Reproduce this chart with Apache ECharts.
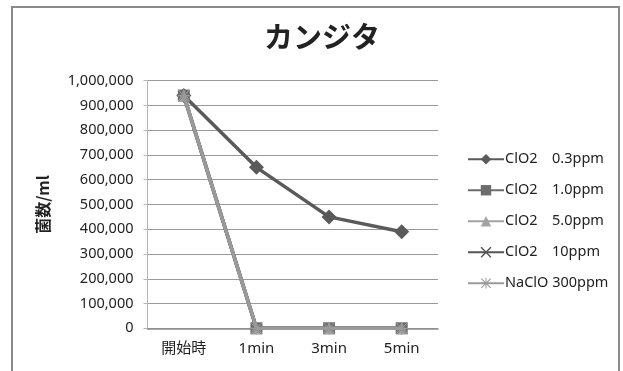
<!DOCTYPE html>
<html><head><meta charset="utf-8">
<script src="https://cdn.jsdelivr.net/npm/echarts@6/dist/echarts.min.js"></script>
<style>html,body{margin:0;padding:0;background:#fff}#c{width:623px;height:371px}</style>
</head><body><div id="c"></div>
<script>
const categories = ['開始時', '1min', '3min', '5min'];
const seriesNames = ['ClO2\u30000.3ppm', 'ClO2\u30001.0ppm', 'ClO2\u30005.0ppm', 'ClO2\u300010ppm', 'NaClO 300ppm'];
const clo2_03 = [940000, 650000, 450000, 390000];
const clo2_10 = [940000, 0, 0, 0];
const clo2_50 = [940000, 0, 0, 0];
const clo2_100 = [940000, 0, 0, 0];
const naclo_300 = [940000, 0, 0, 0];
const yTicks = [0, 100000, 200000, 300000, 400000, 500000, 600000, 700000, 800000, 900000, 1000000];

const F = '"Noto Sans", "Noto Sans CJK JP", sans-serif';
const xSym = 'path://M0,0L1,0L10,9L10,10L9,10L0,1ZM10,0L10,1L1,10L0,10L0,9L9,0Z';
const starSym = 'path://M4.5,0H5.5V10H4.5ZM0,4.5H10V5.5H0ZM0.8,0.1L9.9,9.2L9.2,9.9L0.1,0.8ZM9.2,0.1L9.9,0.8L0.8,9.9L0.1,9.2Z';
const styles = [
  {color:'#5a5a5a', symbol:'diamond', size:15},
  {color:'#6c6c6c', symbol:'rect', size:12},
  {color:'#a3a3a3', symbol:'triangle', size:12},
  {color:'#555555', symbol:xSym, size:11},
  {color:'#9a9a9a', symbol:starSym, size:12}
];
const datas = [clo2_03, clo2_10, clo2_50, clo2_100, naclo_300];
const chart = echarts.init(document.getElementById('c'), null, {renderer:'canvas'});
chart.setOption({
  animation:false,
  backgroundColor:'#fff',
  graphic:[{type:'rect', shape:{x:12, y:7, width:607, height:380}, style:{fill:'none', stroke:'#8a8a8a', lineWidth:2}}],
  title:{text:'カンジタ', top:17, textStyle:{fontFamily:'"Noto Sans CJK JP"', fontWeight:'bold', fontSize:29, color:'#222'}, left:317, textAlign:'center'},
  grid:{left:147.5, right:185, top:80.7, bottom:42.7},
  legend:{orient:'vertical', left:462, top:147, itemWidth:36, itemHeight:13, itemGap:16.5,
    textStyle:{fontFamily:F, fontSize:14.5, color:'#222', padding:[0,0,0,-4]},
    data:seriesNames},
  xAxis:{type:'category', data:categories, boundaryGap:true,
    axisLine:{lineStyle:{color:'#8c8c8c', width:1.5}}, axisTick:{show:false},
    axisLabel:{fontFamily:F, fontSize:15, color:'#222', margin:13}},
  yAxis:{type:'value', min:0, max:1000000, interval:100000,
    name:'菌数/ml', nameLocation:'middle', nameGap:97, nameRotate:90,
    nameTextStyle:{fontFamily:'"Noto Sans CJK JP"', fontWeight:'bold', fontSize:16, color:'#222'},
    axisLine:{show:true, lineStyle:{color:'#b5b5b5'}}, axisTick:{show:true, length:4, lineStyle:{color:'#b5b5b5'}},
    splitLine:{lineStyle:{color:'#9a9a9a', width:1}},
    axisLabel:{fontFamily:F, fontSize:14.5, color:'#222', margin:14,
      formatter:function(v){return yTicks.indexOf(v)>=0 ? v.toLocaleString('en-US') : '';}}},
  series: datas.map(function(d,i){return {
    name:seriesNames[i], type:'line', data:d, symbol:styles[i].symbol, symbolSize:styles[i].size,
    lineStyle:{color:styles[i].color, width:3.5}, itemStyle:{color:styles[i].color, borderWidth:0}, z:2+i
  };})
});
</script></body></html>
